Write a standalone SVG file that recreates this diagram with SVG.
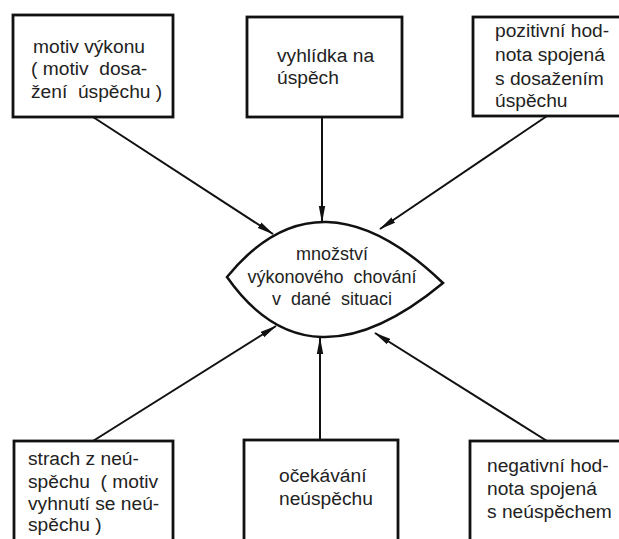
<svg xmlns="http://www.w3.org/2000/svg" width="619" height="539" viewBox="0 0 619 539">
<style>
.box{fill:#fff;stroke:#111;stroke-width:2.8}
.lens{fill:#fff;stroke:#111;stroke-width:2.5}
.t{font-family:"Liberation Sans",Arial,sans-serif;font-size:19.2px;fill:#222;white-space:pre}
.l{font-size:18px}
.c{text-anchor:middle}
.conn{stroke:#111;stroke-width:2;fill:none;marker-end:url(#ah)}
</style>
<defs>
<marker id="ah" markerUnits="userSpaceOnUse" markerWidth="17" markerHeight="8" refX="16" refY="4" orient="auto">
<path d="M0,0.8 L17,4 L0,7.2 z" fill="#111"/>
</marker>
</defs>
<rect width="619" height="539" fill="#fff"/>
<g id="connectors">
<line class="conn" x1="93" y1="117" x2="273" y2="234"/>
<line class="conn" x1="322" y1="117" x2="322" y2="222"/>
<line class="conn" x1="547" y1="116" x2="380" y2="229"/>
<line class="conn" x1="93" y1="441" x2="276" y2="326"/>
<line class="conn" x1="320" y1="440" x2="320" y2="338"/>
<line class="conn" x1="547" y1="441" x2="375" y2="333"/>
</g>
<g id="b1">
<rect class="box" x="13" y="15" width="160" height="102"/>
<text class="t" x="33" y="53">motiv výkonu</text>
<text class="t" x="31" y="75">( motiv  dosa-</text>
<text class="t" x="31" y="98">žení  úspěchu )</text>
</g>
<g id="b2">
<rect class="box" x="247" y="17" width="155" height="100"/>
<text class="t" x="277" y="62">vyhlídka na</text>
<text class="t" x="277" y="84">úspěch</text>
</g>
<g id="b3">
<rect class="box" x="473" y="17" width="160" height="99"/>
<text class="t" x="495" y="37">pozitivní hod-</text>
<text class="t" x="495" y="61">nota spojená</text>
<text class="t" x="495" y="85">s dosažením</text>
<text class="t" x="495" y="107">úspěchu</text>
</g>
<g id="b4">
<rect class="box" x="14" y="441" width="159" height="110"/>
<text class="t" x="28" y="465">strach z neú-</text>
<text class="t" x="28" y="488">spěchu  ( motiv</text>
<text class="t" x="28" y="510">vyhnutí se neú-</text>
<text class="t" x="28" y="531">spěchu )</text>
</g>
<g id="b5">
<rect class="box" x="244" y="440" width="154" height="110"/>
<text class="t" x="279" y="482">očekávání</text>
<text class="t" x="279" y="505">neúspěchu</text>
</g>
<g id="b6">
<rect class="box" x="470" y="441" width="160" height="110"/>
<text class="t" x="487" y="472">negativní hod-</text>
<text class="t" x="487" y="495">nota spojená</text>
<text class="t" x="487" y="518">s neúspěchem</text>
</g>
<g id="center">
<path class="lens" d="M227,277 Q319,164 443,283 Q309,394 227,277 Z"/>
<text class="t l c" x="332" y="260">množství</text>
<text class="t l c" x="332" y="283">výkonového  chování</text>
<text class="t l c" x="332" y="305">v  dané  situaci</text>
</g>
</svg>
